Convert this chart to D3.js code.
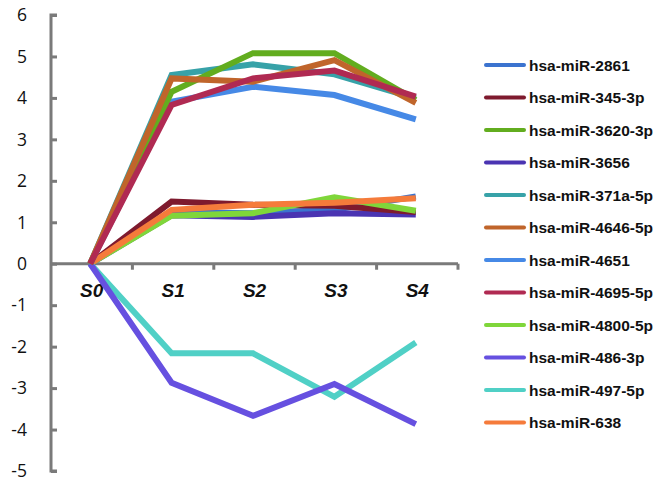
<!DOCTYPE html>
<html>
<head>
<meta charset="utf-8">
<script src="https://cdn.jsdelivr.net/npm/d3@7"></script>
<style>
  body { margin: 0; background: #fff; }
  svg { display: block; }
</style>
</head>
<body>
<div id="chart"></div>
<script>
// miRNA expression trend chart, S0..S4 stages

//// DATA ///////////////////////////////////////////////////////////////////////

var stages = ["S0", "S1", "S2", "S3", "S4"];
var yTicks = [6, 5, 4, 3, 2, 1, 0, -1, -2, -3, -4, -5];

var names = [
	"hsa-miR-2861", "hsa-miR-345-3p", "hsa-miR-3620-3p", "hsa-miR-3656",
	"hsa-miR-371a-5p", "hsa-miR-4646-5p", "hsa-miR-4651", "hsa-miR-4695-5p",
	"hsa-miR-4800-5p", "hsa-miR-486-3p", "hsa-miR-497-5p", "hsa-miR-638"
];

var colors = [
	"#3b73cf", "#7e1a2e", "#62ad1f", "#4a34b2",
	"#37a2a8", "#c0652b", "#4689e6", "#b02a52",
	"#7fd63a", "#6650e0", "#50d0c6", "#f57b3b"
];

var miR2861   = [0, 1.25, 1.22, 1.30, 1.62];
var miR345    = [0, 1.50, 1.42, 1.40, 1.25];
var miR3620   = [0, 4.15, 5.08, 5.08, 3.95];
var miR3656   = [0, 1.17, 1.13, 1.22, 1.19];
var miR371a   = [0, 4.55, 4.81, 4.57, 3.99];
var miR4646   = [0, 4.47, 4.39, 4.91, 3.88];
var miR4651   = [0, 3.91, 4.27, 4.07, 3.48];
var miR4695   = [0, 3.83, 4.47, 4.66, 4.03];
var miR4800   = [0, 1.16, 1.22, 1.60, 1.28];
var miR486    = [0, -2.87, -3.67, -2.90, -3.87];
var miR497    = [0, -2.16, -2.16, -3.21, -1.90];
var miR638    = [0, 1.30, 1.42, 1.47, 1.58];

var seriesValues = [
	miR2861, miR345, miR3620, miR3656, miR371a, miR4646,
	miR4651, miR4695, miR4800, miR486, miR497, miR638
];

//// SETUP //////////////////////////////////////////////////////////////////////

var width = 661, height = 488;
var axisColor = "#7a7a7a";

var svg = d3.select("#chart").append("svg")
	.attr("width", width)
	.attr("height", height);

var x = d3.scaleBand()
	.domain(stages)
	.range([51, 458]);

var y = d3.scaleLinear()
	.domain([-5, 6])
	.range([471, 15]);

// y axis
var yAxis = svg.append("g")
	.attr("transform", "translate(51,0)")
	.call(d3.axisRight(y).tickValues(yTicks).tickSize(6).tickFormat(""));

yAxis.select(".domain")
	.attr("d", "M6," + y(6) + "H0V" + y(-5) + "H6");

yAxis.selectAll("line, path")
	.attr("stroke", axisColor)
	.attr("stroke-width", 3);

svg.append("g").selectAll("text")
	.data(yTicks)
	.join("text")
		.attr("x", 27)
		.attr("y", function(d) { return y(d); })
		.attr("dy", "0.36em")
		.attr("text-anchor", "end")
		.style("font-family", "'Open Sans', sans-serif")
		.style("font-size", "17.5px")
		.style("fill", "#111")
		.text(function(d) { return d; });

// x axis at zero, ticks at band boundaries
var bounds = stages.slice(1).map(function(s) { return x(s); }).concat([x.range()[1]]);

svg.append("line")
	.attr("x1", 51).attr("x2", 458)
	.attr("y1", y(0)).attr("y2", y(0))
	.attr("stroke", axisColor)
	.attr("stroke-width", 3);

svg.append("g").selectAll("line")
	.data(bounds)
	.join("line")
		.attr("x1", function(d) { return d; })
		.attr("x2", function(d) { return d; })
		.attr("y1", y(0))
		.attr("y2", y(0) + 6)
		.attr("stroke", axisColor)
		.attr("stroke-width", 3);

svg.append("g").selectAll("text")
	.data(stages)
	.join("text")
		.attr("x", function(d) { return x(d) + x.bandwidth() / 2; })
		.attr("y", 297)
		.attr("text-anchor", "middle")
		.style("font-family", "'Liberation Sans', Arial, sans-serif")
		.style("font-size", "19px")
		.style("font-weight", "bold")
		.style("font-style", "italic")
		.style("fill", "#111")
		.text(function(d) { return d; });

//// LINES //////////////////////////////////////////////////////////////////////

var line = d3.line()
	.x(function(d, i) { return x(stages[i]) + x.bandwidth() / 2 - 1.5; })
	.y(function(d) { return y(d); });

// draw order so the reference overlaps look right
var drawOrder = [0, 3, 1, 8, 11, 10, 9, 6, 4, 2, 5, 7];

svg.append("g").selectAll("path")
	.data(drawOrder)
	.join("path")
		.attr("d", function(i) { return line(seriesValues[i]); })
		.attr("fill", "none")
		.attr("stroke", function(i) { return colors[i]; })
		.attr("stroke-width", 6)
		.attr("stroke-linejoin", "miter");

//// LEGEND /////////////////////////////////////////////////////////////////////

var legend = svg.append("g").selectAll("g")
	.data(names)
	.join("g")
		.attr("transform", function(d, i) { return "translate(486," + (65 + i * 32.5) + ")"; });

legend.append("line")
	.attr("x1", 0).attr("x2", 38)
	.attr("stroke", function(d, i) { return colors[i]; })
	.attr("stroke-width", 4)
	.attr("stroke-linecap", "round");

legend.append("text")
	.attr("x", 43)
	.attr("dy", "0.36em")
	.style("font-family", "'Liberation Sans', Arial, sans-serif")
	.style("font-size", "15.5px")
	.style("font-weight", "bold")
	.style("fill", "#111")
	.text(function(d) { return d; });
</script>
</body>
</html>
